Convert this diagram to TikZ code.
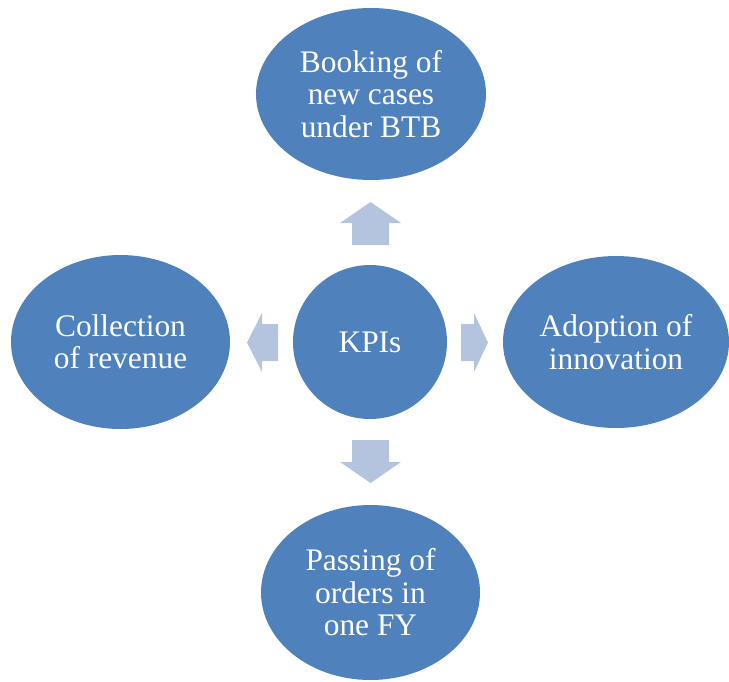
\documentclass[tikz,border=0pt]{standalone}
\usepackage{fontspec}
\setmainfont{Liberation Serif}
\usetikzlibrary{shapes.geometric}
\definecolor{bubble}{RGB}{79,129,189}
\definecolor{pointer}{RGB}{180,196,223}
\begin{document}
\begin{tikzpicture}[x=1pt,y=-1pt,
  bubble/.style={ellipse,fill=bubble,inner sep=0pt,text=white,align=center,
    font=\fontsize{31.4}{32.5}\selectfont},
  pointer/.style={fill=pointer}]
\useasboundingbox (0,0) rectangle (729,681);
% centre and the four surrounding items
\node[bubble,minimum width=154,minimum height=154] (kpi) at (370,342) {KPIs};
\node[bubble,minimum width=230,minimum height=172] (top) at (371,94) {Booking of\\new cases\\under BTB};
\node[bubble,minimum width=219,minimum height=174] (left) at (120.5,342) {Collection\\of revenue};
\node[bubble,minimum width=226,minimum height=172] (right) at (616,342) {Adoption of\\innovation};
\node[bubble,minimum width=219,minimum height=175] (bottom) at (370.5,592.5) {Passing of\\orders in\\one FY};
% block arrows pointing outwards from the centre
\fill[pointer] (370.5,202) -- (401,223) -- (389,223) -- (389,245) -- (352,245) -- (352,223) -- (340,223) -- cycle;
\fill[pointer] (370.5,483) -- (401,462) -- (389,462) -- (389,440) -- (352,440) -- (352,462) -- (340,462) -- cycle;
\fill[pointer] (247,342.5) -- (262,313) -- (262,324) -- (278,324) -- (278,361) -- (262,361) -- (262,372) -- cycle;
\fill[pointer] (488,342.5) -- (474,313) -- (474,324) -- (461,324) -- (461,361) -- (474,361) -- (474,372) -- cycle;
\end{tikzpicture}
\end{document}
